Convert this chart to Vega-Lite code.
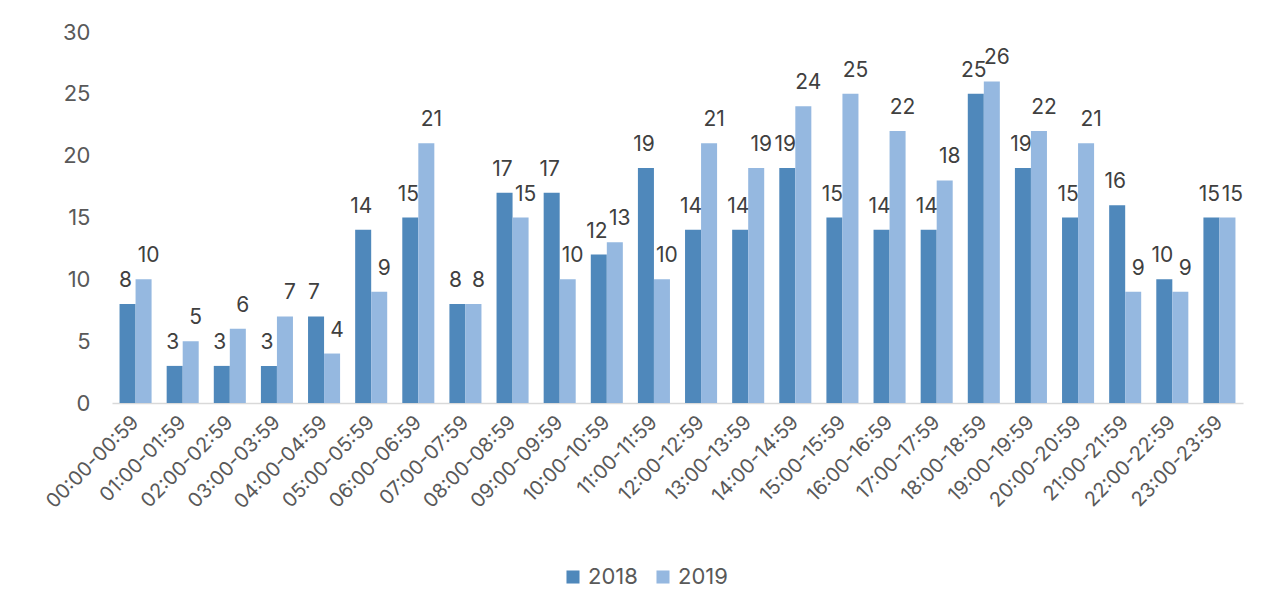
{
  "$schema": "https://vega.github.io/schema/vega-lite/v6.json",
  "width": 1131,
  "height": 371,
  "autosize": {"type": "none"},
  "padding": {"left": 112, "top": 32, "right": 35, "bottom": 212},
  "background": "white",
  "config": {
    "view": {"stroke": null},
    "font": "Inter",
    "axis": {"labelFont": "Inter", "labelColor": "#595959", "grid": false, "ticks": false},
    "legend": {"labelFont": "Inter", "labelColor": "#595959"}
  },
  "data": {"values": [
    {"hour": "00:00-00:59", "year": "2018", "count": 8},
    {"hour": "00:00-00:59", "year": "2019", "count": 10},
    {"hour": "01:00-01:59", "year": "2018", "count": 3},
    {"hour": "01:00-01:59", "year": "2019", "count": 5},
    {"hour": "02:00-02:59", "year": "2018", "count": 3},
    {"hour": "02:00-02:59", "year": "2019", "count": 6},
    {"hour": "03:00-03:59", "year": "2018", "count": 3},
    {"hour": "03:00-03:59", "year": "2019", "count": 7},
    {"hour": "04:00-04:59", "year": "2018", "count": 7},
    {"hour": "04:00-04:59", "year": "2019", "count": 4},
    {"hour": "05:00-05:59", "year": "2018", "count": 14},
    {"hour": "05:00-05:59", "year": "2019", "count": 9},
    {"hour": "06:00-06:59", "year": "2018", "count": 15},
    {"hour": "06:00-06:59", "year": "2019", "count": 21},
    {"hour": "07:00-07:59", "year": "2018", "count": 8},
    {"hour": "07:00-07:59", "year": "2019", "count": 8},
    {"hour": "08:00-08:59", "year": "2018", "count": 17},
    {"hour": "08:00-08:59", "year": "2019", "count": 15},
    {"hour": "09:00-09:59", "year": "2018", "count": 17},
    {"hour": "09:00-09:59", "year": "2019", "count": 10},
    {"hour": "10:00-10:59", "year": "2018", "count": 12},
    {"hour": "10:00-10:59", "year": "2019", "count": 13},
    {"hour": "11:00-11:59", "year": "2018", "count": 19},
    {"hour": "11:00-11:59", "year": "2019", "count": 10},
    {"hour": "12:00-12:59", "year": "2018", "count": 14},
    {"hour": "12:00-12:59", "year": "2019", "count": 21},
    {"hour": "13:00-13:59", "year": "2018", "count": 14},
    {"hour": "13:00-13:59", "year": "2019", "count": 19},
    {"hour": "14:00-14:59", "year": "2018", "count": 19},
    {"hour": "14:00-14:59", "year": "2019", "count": 24},
    {"hour": "15:00-15:59", "year": "2018", "count": 15},
    {"hour": "15:00-15:59", "year": "2019", "count": 25},
    {"hour": "16:00-16:59", "year": "2018", "count": 14},
    {"hour": "16:00-16:59", "year": "2019", "count": 22},
    {"hour": "17:00-17:59", "year": "2018", "count": 14},
    {"hour": "17:00-17:59", "year": "2019", "count": 18},
    {"hour": "18:00-18:59", "year": "2018", "count": 25},
    {"hour": "18:00-18:59", "year": "2019", "count": 26},
    {"hour": "19:00-19:59", "year": "2018", "count": 19},
    {"hour": "19:00-19:59", "year": "2019", "count": 22},
    {"hour": "20:00-20:59", "year": "2018", "count": 15},
    {"hour": "20:00-20:59", "year": "2019", "count": 21},
    {"hour": "21:00-21:59", "year": "2018", "count": 16},
    {"hour": "21:00-21:59", "year": "2019", "count": 9},
    {"hour": "22:00-22:59", "year": "2018", "count": 10},
    {"hour": "22:00-22:59", "year": "2019", "count": 9},
    {"hour": "23:00-23:59", "year": "2018", "count": 15},
    {"hour": "23:00-23:59", "year": "2019", "count": 15}
  ]},
  "encoding": {
    "x": {
      "field": "hour", "type": "nominal", "sort": null, "title": null,
      "scale": {"paddingInner": 0.32, "paddingOuter": 0.16},
      "axis": {"labelAngle": -45, "labelFontSize": 20, "labelPadding": 16, "domainColor": "#D9D9D9", "domainWidth": 1.5, "labelAlign": "right", "labelBaseline": "middle"}
    },
    "xOffset": {"field": "year", "type": "nominal", "scale": {"paddingInner": 0, "paddingOuter": 0}},
    "y": {
      "field": "count", "type": "quantitative", "title": null,
      "scale": {"domain": [0, 30], "nice": false},
      "axis": {"values": [0, 5, 10, 15, 20, 25, 30], "domain": false, "labelFontSize": 22, "labelPadding": 22}
    }
  },
  "layer": [
    {
      "mark": {"type": "bar"},
      "encoding": {
        "color": {
          "field": "year", "type": "nominal", "title": null,
          "scale": {"domain": ["2018", "2019"], "range": ["#4F88BB", "#95B8E0"]},
          "legend": {"orient": "none", "direction": "horizontal", "legendX": 450, "legendY": 534, "symbolType": "square", "symbolSize": 170, "labelFontSize": 22, "labelOffset": 4, "columnPadding": 14, "symbolStrokeWidth": 0}
        }
      }
    },
    {
      "transform": [{"filter": "datum.year === '2018'"}],
      "mark": {"type": "text", "baseline": "alphabetic", "dy": -17, "dx": -2, "fontSize": 21, "color": "#404040"},
      "encoding": {"text": {"field": "count", "type": "quantitative"}}
    },
    {
      "transform": [{"filter": "datum.year === '2019'"}],
      "mark": {"type": "text", "baseline": "alphabetic", "dy": -17, "dx": 5, "fontSize": 21, "color": "#404040"},
      "encoding": {"text": {"field": "count", "type": "quantitative"}}
    }
  ]
}
